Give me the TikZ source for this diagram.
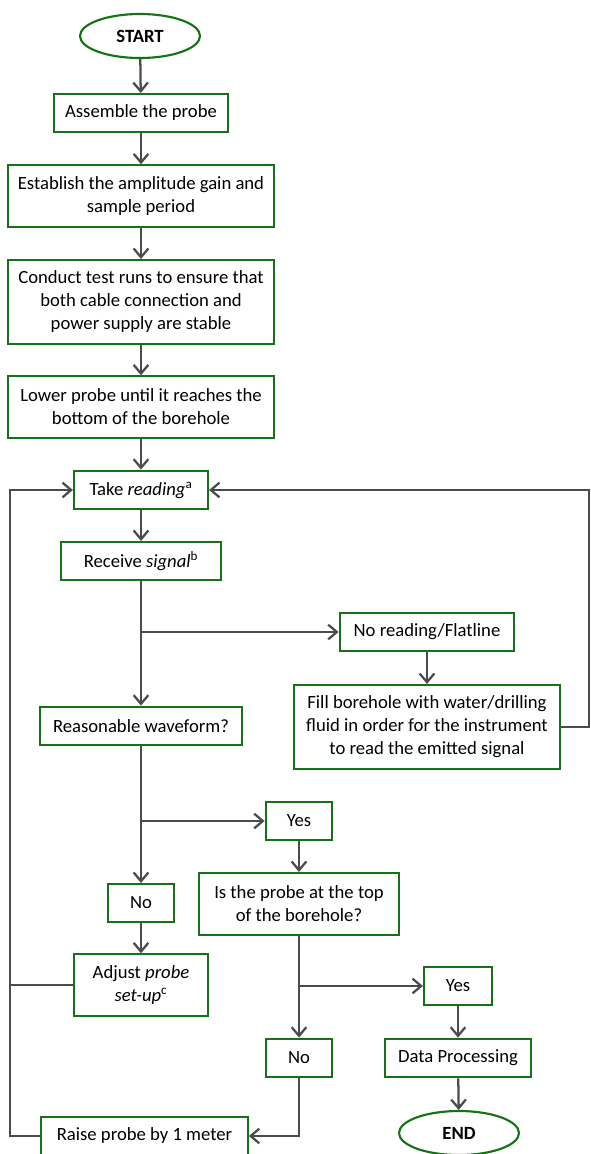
\documentclass[tikz,border=0pt]{standalone}
\usepackage{fontspec}
\setmainfont{Carlito}
\usetikzlibrary{shapes,arrows.meta}
\definecolor{boxgreen}{RGB}{20,115,20}
\definecolor{linegray}{RGB}{75,75,75}

\begin{document}
\begin{tikzpicture}[x=0.75pt,y=-0.75pt,>={Straight Barb[length=6.5pt,width=11pt]}]
\tikzstyle{every node}=[font=\fontsize{14}{17.25}\selectfont,align=center,inner sep=0pt]
\tikzstyle{box}=[rectangle,draw=boxgreen,line width=1.6pt,fill=white]
\tikzstyle{term}=[ellipse,draw=boxgreen,line width=1.6pt,minimum width=90pt,minimum height=33pt,font=\fontsize{14}{17.25}\selectfont\bfseries]
\tikzstyle{flow}=[draw=linegray,line width=1.7pt]
\useasboundingbox (0,0) rectangle (590,1154);

\node[term](start) at (140,36) {START};
\node[box,minimum width=131pt,minimum height=28.5pt](asm) at (141,113) {Assemble the probe};
\node[box,minimum width=199.5pt,minimum height=46pt](gain) at (141,196) {Establish the amplitude gain and\\sample period};
\node[box,minimum width=199.5pt,minimum height=63pt](test) at (141,302) {Conduct test runs to ensure that\\both cable connection and\\power supply are stable};
\node[box,minimum width=199.5pt,minimum height=46pt](lower) at (141,407) {Lower probe until it reaches the\\bottom of the borehole};
\node[box,minimum width=100.5pt,minimum height=29pt](take) at (141,490) {Take \textit{reading}\textsuperscript{a}};
\node[box,minimum width=120pt,minimum height=28.5pt](recv) at (141,561) {Receive \textit{signal}\textsuperscript{b}};
\node[box,minimum width=131pt,minimum height=29pt](nore) at (427,632) {No reading/Flatline};
\node[box,minimum width=200pt,minimum height=63pt](fill) at (427,727) {Fill borehole with water/drilling\\fluid in order for the instrument\\to read the emitted signal};
\node[box,minimum width=151pt,minimum height=29pt](wave) at (141,726) {Reasonable waveform?};
\node[box,minimum width=50pt,minimum height=28.5pt](yesA) at (299,821) {Yes};
\node[box,minimum width=50pt,minimum height=28.5pt](noA) at (141,903) {No};
\node[box,minimum width=150pt,minimum height=46.5pt](top) at (299,904) {Is the probe at the top\\of the borehole?};
\node[box,minimum width=100.5pt,minimum height=46pt](adj) at (141,985) {Adjust \textit{probe}\\\textit{set-up}\textsuperscript{c}};
\node[box,minimum width=51pt,minimum height=29pt](yesB) at (458,986) {Yes};
\node[box,minimum width=50pt,minimum height=29pt](noB) at (299,1058) {No};
\node[box,minimum width=109pt,minimum height=29pt](data) at (458,1058) {Data Processing};
\node[box,minimum width=155pt,minimum height=28.5pt](raise) at (144.5,1136) {Raise probe by 1 meter};
\node[term](end) at (459,1133) {END};

\coordinate (ledge) at (10,0);
\coordinate (redge) at (589,0);

\draw[flow,->] (start) -- (asm);
\draw[flow,->] (asm) -- (gain);
\draw[flow,->] (gain) -- (test);
\draw[flow,->] (test) -- (lower);
\draw[flow,->] (lower) -- (take);
\draw[flow,->] (take) -- (recv);
\draw[flow,->] (recv) -- (wave);
\draw[flow,->] (recv.south |- nore) -- (nore);
\draw[flow,->] (nore) -- (fill);
\draw[flow,->] (fill) -- (fill -| redge) |- (take);
\draw[flow,->] (wave) -- (noA);
\draw[flow,->] (wave.south |- yesA) -- (yesA);
\draw[flow,->] (yesA) -- (top);
\draw[flow,->] (noA) -- (adj);
\draw[flow] (adj) -- (adj -| ledge);
\draw[flow,->] (raise) -- (raise -| ledge) |- (take);
\draw[flow,->] (top) -- (noB);
\draw[flow,->] (top.south |- yesB) -- (yesB);
\draw[flow,->] (yesB) -- (data);
\draw[flow,->] (data) -- (end);
\draw[flow,->] (noB) |- (raise);
\end{tikzpicture}
\end{document}
